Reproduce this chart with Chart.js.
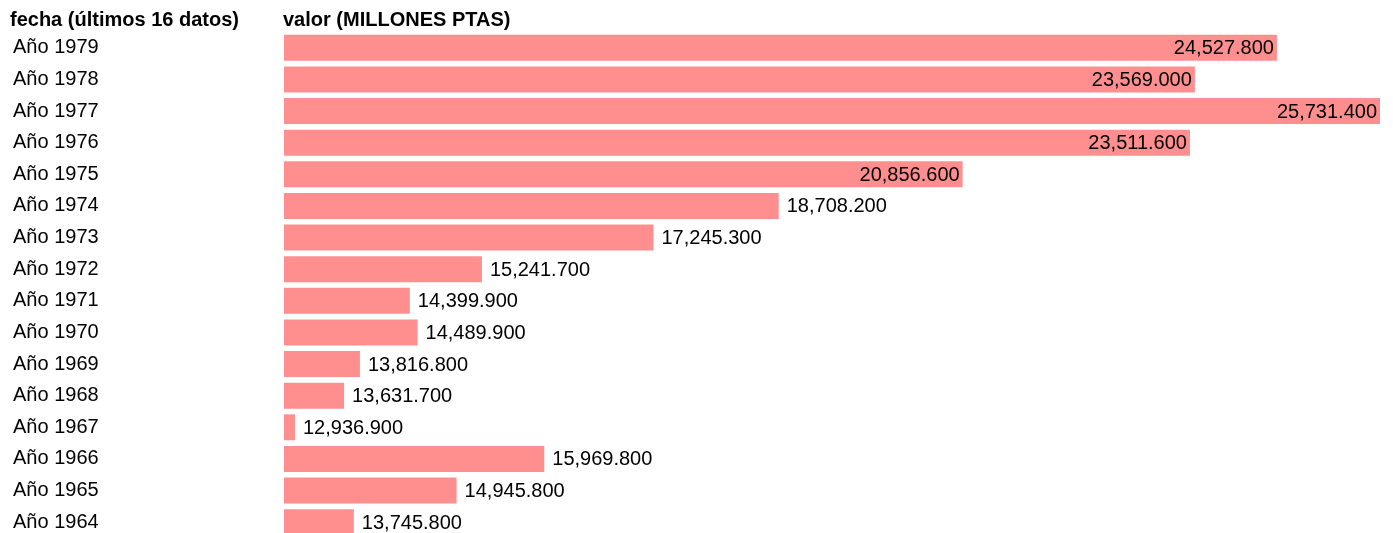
<!DOCTYPE html>
<html>
<head>
<meta charset="utf-8">
<script src="https://cdn.jsdelivr.net/npm/chart.js@4.4.1/dist/chart.umd.min.js"></script>
<style>
  html, body { margin: 0; padding: 0; background: #fff; overflow: hidden; width: 1393px; height: 533px; }
  canvas { display: block; }
</style>
</head>
<body>
<canvas id="c" width="1393" height="540" style="width:1393px;height:540px"></canvas>
<script>
const categories = ["Año 1979","Año 1978","Año 1977","Año 1976","Año 1975","Año 1974","Año 1973","Año 1972","Año 1971","Año 1970","Año 1969","Año 1968","Año 1967","Año 1966","Año 1965","Año 1964"];
const values = [24527.8, 23569.0, 25731.4, 23511.6, 20856.6, 18708.2, 17245.3, 15241.7, 14399.9, 14489.9, 13816.8, 13631.7, 12936.9, 15969.8, 14945.8, 13745.8];
const headerLabels = ["fecha (últimos 16 datos)", "valor (MILLONES PTAS)"];
const axisMin = 12930;

const FONT = "'Liberation Sans', Arial, sans-serif";
const fmt = new Intl.NumberFormat('en-US', { minimumFractionDigits: 3, maximumFractionDigits: 3 });

const labelPlugin = {
  id: 'valueLabels',
  afterDatasetsDraw(chart) {
    const ctx = chart.ctx;
    const meta = chart.getDatasetMeta(0);
    const area = chart.chartArea;
    ctx.save();
    ctx.font = "20px " + FONT;
    ctx.fillStyle = '#000';
    ctx.textBaseline = 'middle';
    meta.data.forEach((bar, i) => {
      const txt = fmt.format(values[i]);
      const w = bar.x - area.left;
      if (w > (area.right - area.left) * 0.5) {
        ctx.textAlign = 'right';
        ctx.fillText(txt, bar.x - 3, bar.y + 1);
      } else {
        ctx.textAlign = 'left';
        ctx.fillText(txt, bar.x + 8, bar.y + 1);
      }
    });
    ctx.restore();
  },
  afterDraw(chart) {
    const ctx = chart.ctx;
    ctx.save();
    ctx.font = "bold 20px " + FONT;
    ctx.fillStyle = '#000';
    ctx.textBaseline = 'alphabetic';
    ctx.textAlign = 'left';
    ctx.fillText(headerLabels[0], 10, 26);
    ctx.fillText(headerLabels[1], chart.chartArea.left - 1, 26);
    ctx.restore();
  }
};

new Chart(document.getElementById('c'), {
  type: 'bar',
  data: {
    labels: categories,
    datasets: [{
      data: values,
      base: axisMin,
      backgroundColor: 'rgb(255,143,143)',
      borderWidth: 0,
      barPercentage: 0.82,
      categoryPercentage: 1,
      minBarLength: 11
    }]
  },
  options: {
    indexAxis: 'y',
    responsive: false,
    maintainAspectRatio: false,
    devicePixelRatio: 1,
    animation: false,
    layout: { padding: { top: 32, bottom: 2, left: 13, right: 13 } },
    plugins: { legend: { display: false }, tooltip: { enabled: false } },
    scales: {
      x: {
        display: false,
        min: axisMin,
        max: Math.max(...values)
      },
      y: {
        grid: { display: false, drawTicks: false },
        border: { display: false },
        ticks: {
          crossAlign: 'far',
          padding: 0,
          color: '#000',
          font: { family: FONT, size: 20 }
        },
        afterFit(scale) {
          scale.width = 271;
          scale.paddingTop = 0;
          scale.paddingBottom = 0;
        }
      }
    }
  },
  plugins: [labelPlugin]
});
</script>
</body>
</html>
